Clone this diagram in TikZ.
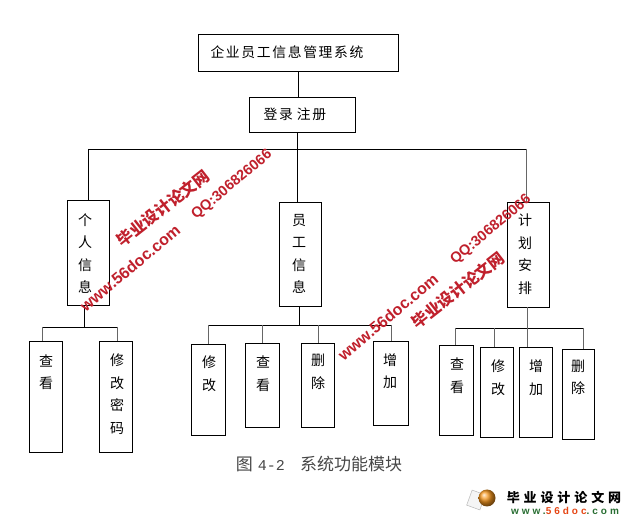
\documentclass[tikz,border=0pt]{standalone}
\usepackage{fontspec}
\setmainfont{Liberation Serif}
\newfontfamily\cjk{Noto Sans CJK SC}
\newfontfamily\cjksp[LetterSpace=12]{Noto Sans CJK SC}
\newfontfamily\logocjk[LetterSpace=30]{Noto Sans CJK SC}
\newfontfamily\wmlat{Liberation Sans}
\newfontfamily\logolat[LetterSpace=30]{Liberation Sans}
\newfontfamily\monof{Liberation Mono}
\definecolor{wmred}{RGB}{192,32,44}
\definecolor{lgreen}{RGB}{40,110,50}
\definecolor{lorange}{RGB}{230,70,20}
\definecolor{ballc}{RGB}{245,150,30}
\tikzset{
  bx/.style={draw=black, line width=0.9pt, inner sep=0pt, fill=none},
  lbl/.style={font=\cjk\fontsize{14}{22.5}\selectfont, align=center, inner sep=0pt},
  ln/.style={line width=0.9pt, draw=black},
  stub/.style={line width=0.9pt, draw=black!60},
  wmcn/.style={font=\cjk\bfseries\fontsize{16}{16}\selectfont, text=wmred, inner sep=0pt},
  wmlt/.style={font=\wmlat\bfseries\fontsize{16}{16}\selectfont, text=wmred, inner sep=0pt},
  wmqq/.style={font=\wmlat\bfseries\fontsize{14.5}{14.5}\selectfont, text=wmred, inner sep=0pt}
}
\begin{document}
\begin{tikzpicture}[x=1pt,y=-1pt]
\useasboundingbox (0,0) rectangle (630,521);
\fill[white] (0,0) rectangle (630,521);

% boxes
\node[bx, minimum width=200pt, minimum height=37pt] (top) at (298,52.5) {};
\node[bx, minimum width=106pt, minimum height=35pt] (login) at (302,114.5) {};
\node[bx, minimum width=42pt, minimum height=105pt] (lbox) at (88,252.5) {};
\node[bx, minimum width=42pt, minimum height=104pt] (mbox) at (300,254) {};
\node[bx, minimum width=42pt, minimum height=105pt] (rbox) at (528,254.5) {};
\node[bx, minimum width=33pt, minimum height=111pt] (L1) at (45.5,396.5) {};
\node[bx, minimum width=33pt, minimum height=111pt] (L2) at (115.5,396.5) {};
\node[bx, minimum width=34pt, minimum height=91pt] (M1) at (208,389.5) {};
\node[bx, minimum width=34pt, minimum height=84pt] (M2) at (262,385) {};
\node[bx, minimum width=33pt, minimum height=84pt] (M3) at (317.5,385) {};
\node[bx, minimum width=35pt, minimum height=84pt] (M4) at (390.5,383) {};
\node[bx, minimum width=34pt, minimum height=90pt] (R1) at (456,390) {};
\node[bx, minimum width=33pt, minimum height=90pt] (R2) at (496.5,392) {};
\node[bx, minimum width=33pt, minimum height=90pt] (R3) at (535.5,392) {};
\node[bx, minimum width=32pt, minimum height=90pt] (R4) at (578,394) {};

% texts
\node[lbl, font=\cjksp\fontsize{13.8}{16}\selectfont] (ttop) at (287,52) {企业员工信息管理系统};
\node[lbl, font=\cjksp\fontsize{13.8}{16}\selectfont] (tlogin) at (295,114) {登录\hspace{4pt}注册};
\node[lbl] (tl) at (85,253.5) {个\\人\\信\\息};
\node[lbl] (tm) at (299,254) {员\\工\\信\\息};
\node[lbl] (tr) at (525,254) {计\\划\\安\\排};
\node[lbl] (tL1) at (46,372) {查\\看};
\node[lbl] (tL2) at (117,394) {修\\改\\密\\码};
\node[lbl] (tM1) at (209,373.5) {修\\改};
\node[lbl] (tM2) at (263,373.5) {查\\看};
\node[lbl] (tM3) at (318,372) {删\\除};
\node[lbl] (tM4) at (390,371) {增\\加};
\node[lbl] (tR1) at (457,375.5) {查\\看};
\node[lbl] (tR2) at (498,377.5) {修\\改};
\node[lbl] (tR3) at (536,377.5) {增\\加};
\node[lbl] (tR4) at (578,377.5) {删\\除};

% main connectors
\coordinate (bar) at (297,149);
\coordinate (barL) at (88,149);
\coordinate (barR) at (526,149);
\draw[ln] (top.south) -- (top.south |- login.north);
\draw[ln] (login.south -| bar) -- (bar);
\draw[ln] (barL) -- (barR);
\draw[ln] (barL) -- (barL |- lbox.north);
\draw[ln] (bar) -- (bar |- mbox.north);
\draw[stub] (barR) -- (barR |- rbox.north);

% left subtree
\coordinate (lj) at (84,327);
\coordinate (l1) at (42,327);
\coordinate (l2) at (117,327);
\draw[ln] (lj |- lbox.south) -- (lj);
\draw[ln] (l1) -- (l2);
\draw[stub] (l1) -- (l1 |- L1.north);
\draw[stub] (l2) -- (l2 |- L2.north);

% middle subtree
\coordinate (mj) at (299,325);
\coordinate (m1) at (208,325);
\coordinate (m2) at (262,325);
\coordinate (m3) at (318,325);
\coordinate (m4) at (391,325);
\draw[ln] (mj |- mbox.south) -- (mj);
\draw[ln] (m1) -- (m4);
\draw[stub] (m1) -- (m1 |- M1.north);
\draw[stub] (m2) -- (m2 |- M2.north);
\draw[stub] (m3) -- (m3 |- M3.north);
\draw[stub] (m4) -- (m4 |- M4.north);

% right subtree
\coordinate (rj) at (527,328);
\coordinate (r1) at (455,328);
\coordinate (r2) at (494,328);
\coordinate (r4) at (583,328);
\draw[stub] (rj |- rbox.south) -- (rj);
\draw[ln] (r1) -- (r4);
\draw[stub] (r1) -- (r1 |- R1.north);
\draw[stub] (r2) -- (r2 |- R2.north);
\draw[stub] (rj) -- (rj |- R3.north);
\draw[stub] (r4) -- (r4 |- R4.north);

% caption
\node[inner sep=0pt, text=black!72, font=\cjk\fontsize{17}{17}\selectfont] (cap) at (319,464)
  {图\hspace{5pt}{\monof\fontsize{15}{15}\selectfont 4-2}\hspace{15pt}系统功能模块};

% watermarks
\node[wmcn, rotate=38] (wa1) at (163,208) {毕业设计论文网};
\node[wmqq, rotate=40] (wa2) at (232,185) {QQ:306826066};
\node[wmlt, rotate=40] (wa3) at (130,268) {www.56doc.com};
\node[wmlt, rotate=40] (wb1) at (388,317) {www.56doc.com};
\node[wmqq, rotate=40] (wb2) at (491,230) {QQ:306826066};
\node[wmcn, rotate=38] (wb3) at (458,290) {毕业设计论文网};

% logo
\filldraw[fill=gray!8, draw=gray!55, line width=0.5pt, rotate around={-20:(476,500)}] (469,492) rectangle (483,508);
\shade[ball color=ballc] (487,498) circle (8.5);
\node[inner sep=0pt, font=\logocjk\bfseries\fontsize{13}{13}\selectfont] (lg1) at (564,498) {毕业设计论文网};
\node[inner sep=0pt, font=\logolat\bfseries\fontsize{10}{10}\selectfont] (lg2) at (565,511)
  {\textcolor{lgreen}{www.}\textcolor{lorange}{56doc}\textcolor{lgreen}{.com}};
\end{tikzpicture}
\end{document}
